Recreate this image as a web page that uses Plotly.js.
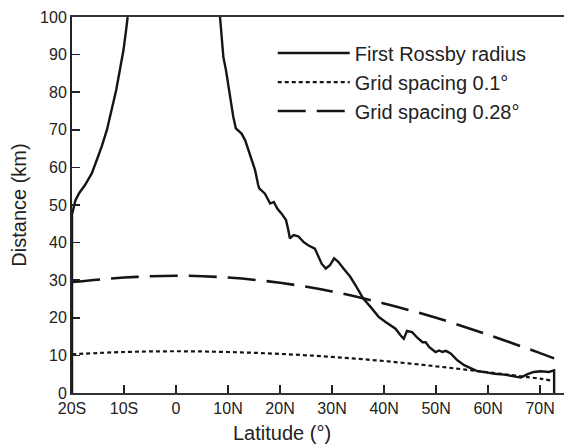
<!DOCTYPE html>
<html>
<head>
<meta charset="utf-8">
<script src="https://cdn.plot.ly/plotly-3.0.1.min.js"></script>
<style>html,body{margin:0;padding:0;background:#fff;}#chart{width:564px;height:446px;}</style>
</head>
<body>
<div id="chart"></div>
<script>
// First Rossby radius (km) vs latitude (deg, S negative); null = off-scale near the equator
var rossbyLat = [-20, -20, -19.35, -18.6, -17.5, -16.2, -15.25, -14.3, -13.3, -12.4, -11.5, -10.8, -10.1, -9.6, -9.3,
  null,
  8.46, 8.8, 9.1, 9.6, 10.06, 10.5, 11.0, 11.5, 12.6, 13.3, 14.2, 15.2, 15.8, 16.0, 17.1, 18.1, 18.8, 19.5, 20.3, 20.96,
  21.15, 21.6, 21.9, 22.6, 23.5, 24.5, 25.4, 26.7, 27.4, 28.0, 28.8, 29.6, 30.4, 31.2, 32.2, 33.5, 34.7, 36.0,
  37.4, 39.0, 40.3, 41.3, 42.2, 43.2, 43.8, 44.4, 45.4, 46.4, 47.4, 48.0, 48.7, 49.9, 50.6, 51.2, 51.9, 52.8,
  54.1, 55.4, 56.7, 57.9, 59.2, 61.2, 63.1, 64.7, 66.3, 67.6, 68.8, 70.1, 71.7, 72.7, 72.7];
var rossbyKm = [0, 47.5, 51.2, 53.2, 55.3, 58.4, 61.9, 65.5, 69.9, 75.2, 80.6, 85.9, 91.2, 96.5, 100,
  null,
  100, 93.9, 89.4, 85.9, 81.4, 77.0, 73.5, 70.4, 69.0, 67.2, 63.3, 59.3, 55.3, 54.4, 53.0, 50.4, 50.8, 49.0, 47.7, 46.4,
  46.0, 43.3, 41.1, 42.0, 41.7, 40.2, 39.3, 38.4, 36.2, 34.4, 33.1, 34.0, 35.8, 34.9, 33.1, 30.9, 28.2, 25.1,
  22.9, 20.2, 18.9, 18.0, 17.1, 15.3, 14.4, 16.5, 16.2, 14.7, 13.5, 13.5, 12.2, 10.9, 11.3, 10.9, 11.2, 10.5,
  8.7, 7.4, 6.5, 5.8, 5.6, 5.1, 4.9, 4.4, 4.1, 5.0, 5.6, 5.8, 5.6, 6.0, 0];

// Grid spacing 0.1 deg (km)
var grid01Lat = [-20, -10, 0, 10, 20, 30, 40, 50, 60, 70, 72.7];
var grid01Km  = [10.3, 10.9, 11.1, 10.9, 10.4, 9.6, 8.5, 7.1, 5.5, 3.8, 3.2];

// Grid spacing 0.28 deg (km)
var grid028Lat = [-20, -10, 0, 10, 20, 30, 40, 50, 60, 70, 72.7];
var grid028Km  = [29.5, 30.7, 31.2, 30.7, 29.3, 27.0, 23.8, 20.0, 15.5, 10.6, 9.2];

var tickVals = [-20, -10, 0, 10, 20, 30, 40, 50, 60, 70];
var tickText = ['20S', '10S', '0', '10N', '20N', '30N', '40N', '50N', '60N', '70N'];

var names = ['First Rossby radius', 'Grid spacing 0.1\u00b0', 'Grid spacing 0.28\u00b0'];

var ink = '#151515';
var font = 'Liberation Sans, Arial, Helvetica, sans-serif';

var traces = [
  {x: rossbyLat, y: rossbyKm, name: names[0], legendgroup: 'a', mode: 'lines', connectgaps: false,
   line: {color: ink, width: 2.4}},
  {x: grid01Lat, y: grid01Km, name: names[1], legendgroup: 'b', mode: 'lines', line: {color: ink, width: 2.2, dash: '4px,3px', shape: 'spline'}},
  {x: grid028Lat, y: grid028Km, name: names[2], legendgroup: 'c', mode: 'lines', line: {color: ink, width: 2.6, dash: '28px,11px', shape: 'spline'}}
];

var layout = {
  width: 564, height: 446,
  margin: {l: 72, r: 0, t: 17, b: 53, pad: 0},
  paper_bgcolor: '#fff', plot_bgcolor: '#fff',
  font: {family: font, size: 16, color: '#222'},
  showlegend: true,
  legend: {x: 0.408, y: 0.956, xanchor: 'left', yanchor: 'top', bgcolor: 'rgba(0,0,0,0)',
    font: {family: font, size: 20, color: '#222'}, itemwidth: 72, tracegroupgap: 9, traceorder: 'normal'},
  xaxis: {range: [-20, 74.6], tickvals: tickVals, ticktext: tickText, ticks: 'inside', ticklen: 8,
    tickwidth: 1.5, tickcolor: '#222', showline: true, linecolor: '#333', linewidth: 2, mirror: true,
    showgrid: false, zeroline: false, tickfont: {size: 16},
    title: {text: ''}},
  yaxis: {range: [0, 100], dtick: 10, tick0: 0, ticks: 'inside', ticklen: 8, tickwidth: 1.5, tickcolor: '#222',
    showline: true, linecolor: '#222', linewidth: 2, showgrid: false, zeroline: false, tickfont: {size: 16},
    title: {text: 'Distance (km)', font: {size: 20, color: '#222'}, standoff: 8}},
  annotations: [
    {text: 'Latitude (\u00b0)', xref: 'paper', yref: 'paper', x: (282 - 72) / 492, y: 0, yshift: -40,
     xanchor: 'center', yanchor: 'middle', showarrow: false, font: {size: 20, color: '#222'}}
  ]
};

Plotly.newPlot('chart', traces, layout, {displayModeBar: false, staticPlot: true});
</script>
</body>
</html>
